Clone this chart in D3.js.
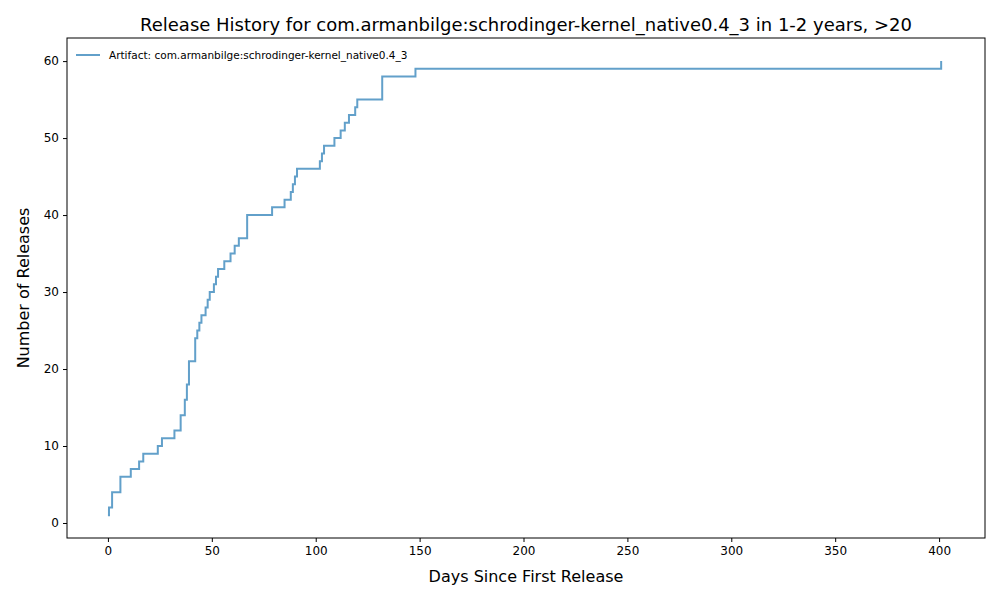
<!DOCTYPE html>
<html><head><meta charset="utf-8">
<script src="https://cdn.jsdelivr.net/npm/d3@7"></script>
<style>body{margin:0;font-family:"DejaVu Sans",sans-serif;}</style>
</head><body><svg id="chart" width="1000" height="600"></svg>
<script>
'use strict';

var days = [0, 0.5, 2, 6, 11, 15, 17, 24, 26, 32, 35, 37, 38, 39, 42, 43, 44, 45, 47, 48, 49, 51, 52, 53, 56, 59, 61, 63, 67, 79, 85, 88, 89, 90, 91, 102, 103, 104, 109, 112, 114, 116, 119, 120, 132, 148, 401];
var releases = [1, 2, 4, 6, 7, 8, 9, 10, 11, 12, 14, 16, 18, 21, 24, 25, 26, 27, 28, 29, 30, 31, 32, 33, 34, 35, 36, 37, 40, 41, 42, 43, 44, 45, 46, 47, 48, 49, 50, 51, 52, 53, 54, 55, 58, 59, 60];
var xTicks = [0, 50, 100, 150, 200, 250, 300, 350, 400];
var yTicks = [0, 10, 20, 30, 40, 50, 60];

var svg = d3.select('#chart');
var m = {left: 67, right: 985, top: 38, bottom: 538};

var x = d3.scaleLinear().domain([-19.7, 422.1]).range([m.left, m.right]);
var y = d3.scaleLinear().domain([-1.95, 63]).range([m.bottom, m.top]);

var pts = days.map(function(d, i){ return [d, releases[i]]; });

svg.append('path')
  .datum(pts)
  .attr('fill', 'none')
  .attr('stroke', '#1f77b4')
  .attr('stroke-opacity', 0.7)
  .attr('stroke-width', 2)
  .attr('d', d3.line().curve(d3.curveStepAfter)
    .x(function(d){ return x(d[0]); })
    .y(function(d){ return y(d[1]); }));

svg.append('rect')
  .attr('x', m.left).attr('y', m.top)
  .attr('width', m.right - m.left).attr('height', m.bottom - m.top)
  .attr('fill', 'none').attr('stroke', '#000').attr('stroke-width', 1);

var xAxis = svg.append('g').attr('transform', 'translate(0,' + m.bottom + ')')
  .call(d3.axisBottom(x).tickValues(xTicks).tickSize(4).tickPadding(4));
var yAxis = svg.append('g').attr('transform', 'translate(' + m.left + ',0)')
  .call(d3.axisLeft(y).tickValues(yTicks).tickSize(4).tickPadding(4));
[xAxis, yAxis].forEach(function(a){
  a.select('.domain').remove();
  a.selectAll('text').attr('font-size', 12).attr('fill', '#000').attr('font-family', 'DejaVu Sans');
});

svg.append('text').attr('x', 526).attr('y', 31).attr('text-anchor', 'middle')
  .attr('font-size', 18).text('Release History for com.armanbilge:schrodinger-kernel_native0.4_3 in 1-2 years, >20');
svg.append('text').attr('x', 526).attr('y', 582).attr('text-anchor', 'middle')
  .attr('font-size', 16).text('Days Since First Release');
svg.append('text').attr('transform', 'translate(29,288) rotate(-90)').attr('text-anchor', 'middle')
  .attr('font-size', 16).text('Number of Releases');

// legend
svg.append('line').attr('x1', 76).attr('x2', 100).attr('y1', 55).attr('y2', 55)
  .attr('stroke', '#1f77b4').attr('stroke-opacity', 0.7).attr('stroke-width', 2);
svg.append('text').attr('x', 109).attr('y', 59).attr('font-size', 10.5)
  .text('Artifact: com.armanbilge:schrodinger-kernel_native0.4_3');
</script></body></html>
